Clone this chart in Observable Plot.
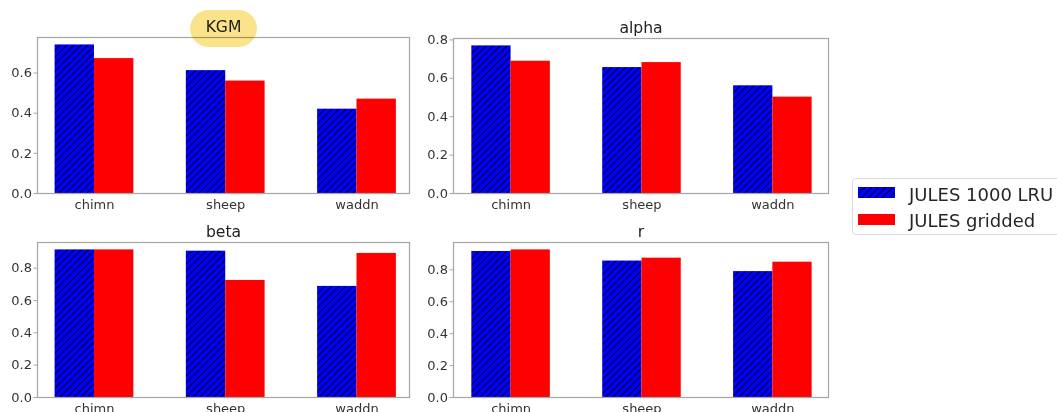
<!DOCTYPE html>
<html><head><meta charset="utf-8">
<script src="https://cdn.jsdelivr.net/npm/d3@7"></script>
<script src="https://cdn.jsdelivr.net/npm/@observablehq/plot@0.6"></script>
<style>
body{margin:0;background:#fff;font-family:"DejaVu Sans",sans-serif;}
#root{position:relative;width:1057px;height:412px;overflow:hidden;background:#fff;}
.panel{position:absolute;}
.pill{position:absolute;left:190px;top:10px;width:67px;height:37px;border-radius:18.5px;background:#fbe38c;mix-blend-mode:multiply;}
.legend{position:absolute;left:852px;top:178px;width:230px;height:57px;border:1px solid #dcdcdc;border-radius:4px;box-sizing:border-box;background:#fff;}
.lg-item{position:absolute;left:56px;font-size:18px;line-height:18px;color:#262626;white-space:nowrap;}
.lg-sw{position:absolute;left:5px;}
</style></head><body>
<div id="root"></div>
<script>
// ---- data ----
const sites = ["chimn", "sheep", "waddn"];
const seriesNames = ["JULES 1000 LRU", "JULES gridded"];
const metrics = ["KGM", "alpha", "beta", "r"];
const kgmLRU = [0.740, 0.612, 0.420];
const kgmGridded = [0.672, 0.560, 0.470];
const alphaLRU = [0.769, 0.656, 0.561];
const alphaGridded = [0.689, 0.682, 0.502];
const betaLRU = [0.913, 0.905, 0.687];
const betaGridded = [0.913, 0.724, 0.891];
const rLRU = [0.915, 0.855, 0.789];
const rGridded = [0.925, 0.873, 0.848];
const yTickValues = [0, 0.2, 0.4, 0.6, 0.8];

const seriesByMetric = [
  [kgmLRU, kgmGridded],
  [alphaLRU, alphaGridded],
  [betaLRU, betaGridded],
  [rLRU, rGridded]
];

const root = document.getElementById("root");

// hatch pattern definition
const NS = "http://www.w3.org/2000/svg";
const defsSvg = document.createElementNS(NS, "svg");
defsSvg.setAttribute("width", "0");
defsSvg.setAttribute("height", "0");
defsSvg.style.position = "absolute";
defsSvg.innerHTML = `<defs><pattern id="hatch" patternUnits="userSpaceOnUse" width="7" height="7">
<rect width="7" height="7" fill="#0000ff"/>
<path d="M0,7 L7,0 M-1.75,1.75 L1.75,-1.75 M5.25,8.75 L8.75,5.25" stroke="#000022" stroke-width="1.1"/>
</pattern></defs>`;
root.appendChild(defsSvg);

const BAR_W = 0.3;
// layout per panel: [left, top, width, height, mL, mR, mT, mB, xDomain]
const layout = [
  [0, 0, 420, 212, 37, 11, 37, 19, [-0.434, 2.40]],
  [420, 0, 420, 212, 33, 12, 38, 19, [-0.44, 2.425]],
  [0, 212, 420, 200, 37, 11, 30, 15, [-0.434, 2.40]],
  [420, 212, 420, 200, 33, 12, 30, 15, [-0.44, 2.425]]
];

metrics.forEach((metric, k) => {
  const [lruVals, gridVals] = seriesByMetric[k];
  const lruData = sites.map((s, i) => ({site: s, i, value: lruVals[i]}));
  const gridData = sites.map((s, i) => ({site: s, i, value: gridVals[i]}));
  const ymax = d3.max([...lruVals, ...gridVals]) * 1.05;
  const [L, T, W, H, mL, mR, mT, mB, xDom] = layout[k];
  const chart = Plot.plot({
    width: W, height: H,
    marginLeft: mL, marginRight: mR, marginTop: mT, marginBottom: mB,
    style: {fontFamily: "DejaVu Sans", fontSize: "13px", color: "#333", background: "transparent", overflow: "visible"},
    x: {domain: xDom, axis: null},
    y: {domain: [0, ymax], axis: null},
    marks: [
      Plot.rect(lruData, {x1: d => d.i - BAR_W, x2: d => d.i, y1: 0, y2: "value", fill: "url(#hatch)"}),
      Plot.rect(gridData, {x1: d => d.i, x2: d => d.i + BAR_W, y1: 0, y2: "value", fill: "#ff0000"}),
      Plot.frame({stroke: "#a6a6a6", strokeWidth: 1.2}),
      Plot.axisY({ticks: yTickValues.filter(v => v <= ymax), tickFormat: d3.format(".1f"), tickSize: 3.5, tickPadding: 2, stroke: "#a6a6a6", fontSize: 13, label: null}),
      Plot.axisX({ticks: sites.map((s, i) => i), tickFormat: i => sites[i], tickSize: 0, tickPadding: 6, fontSize: 13, label: null}),
      Plot.text([metric], {frameAnchor: "top", lineAnchor: "bottom", dy: -6, fontSize: 15.6, fill: "#222"})
    ]
  });
  const wrap = document.createElement("div");
  wrap.className = "panel";
  wrap.style.left = L + "px";
  wrap.style.top = T + "px";
  wrap.appendChild(chart);
  root.appendChild(wrap);
});

// highlight on KGM title
const pill = document.createElement("div");
pill.className = "pill";
root.appendChild(pill);

// legend
const legend = document.createElement("div");
legend.className = "legend";
const swTops = [8, 35];
const txtTops = [7, 33];
seriesNames.forEach((name, j) => {
  const sw = document.createElementNS(NS, "svg");
  sw.setAttribute("width", "37");
  sw.setAttribute("height", "11");
  sw.setAttribute("class", "lg-sw");
  sw.style.top = swTops[j] + "px";
  sw.innerHTML = `<rect width="37" height="11" fill="${j === 0 ? "url(#hatch)" : "#ff0000"}"/>`;
  legend.appendChild(sw);
  const t = document.createElement("div");
  t.className = "lg-item";
  t.style.top = txtTops[j] + "px";
  t.textContent = name;
  legend.appendChild(t);
});
root.appendChild(legend);
</script>
</body></html>
